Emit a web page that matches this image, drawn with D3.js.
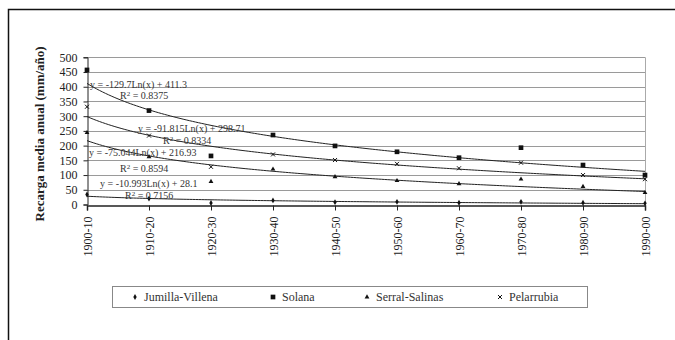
<!DOCTYPE html>
<html>
<head>
<meta charset="utf-8">
<script src="https://cdn.jsdelivr.net/npm/d3@7"></script>
<style>
  html, body { margin: 0; padding: 0; background: #fff; }
  svg text { font-family: "Liberation Serif", "DejaVu Serif", serif; }
</style>
</head>
<body>
<svg id="chart" width="675" height="340"></svg>
<script>
// Mean annual recharge per decade for four aquifer units (mm/año)
const periods = ["1900-10", "1910-20", "1920-30", "1930-40", "1940-50",
                 "1950-60", "1960-70", "1970-80", "1980-90", "1990-00"];
const jumillaVillena = [34, 20, 5, 14, 8, 9, 6, 9, 6, 4];
const solana         = [457, 319, 165, 236, 199, 179, 159, 193, 134, 100];
const serralSalinas  = [244, 162, 78, 120, 94, 81, 70, 86, 61, 40];
const pelarrubia     = [332, 234, 128, 170, 151, 138, 123, 142, 100, 86];
const seriesNames    = ["Jumilla-Villena", "Solana", "Serral-Salinas", "Pelarrubia"];
const yTicks = [0, 50, 100, 150, 200, 250, 300, 350, 400, 450, 500];

// Logarithmic trend lines: y = slope * ln(x) + intercept
const trendSlopes     = [-10.993, -129.7, -75.044, -91.815];
const trendIntercepts = [28.1, 411.3, 216.93, 298.71];
const trendR2         = ["0.7156", "0.8375", "0.8594", "0.8334"];

const serif = "'Liberation Serif', 'Times New Roman', serif";
const svg = d3.select("#chart");

// outer frame
svg.append("rect").attr("x", 8.5).attr("y", 9.5).attr("width", 720).attr("height", 400)
  .attr("fill", "none").attr("stroke", "#111").attr("stroke-width", 1.5);

const plot = { left: 87, right: 645, top: 57.3, bottom: 204.5 };

const x = d3.scalePoint().domain(periods).range([plot.left, plot.right]).padding(0);
const y = d3.scaleLinear().domain([0, 500]).range([plot.bottom, plot.top]);

// horizontal grid
svg.append("g").selectAll("line").data(yTicks.filter(d => d > 0)).join("line")
  .attr("x1", plot.left).attr("x2", plot.right)
  .attr("y1", d => Math.round(y(d)) + 0.5).attr("y2", d => Math.round(y(d)) + 0.5)
  .attr("stroke", "#9a9a9a").attr("stroke-width", 1);

// right edge of plot area
svg.append("line").attr("x1", plot.right + 0.5).attr("x2", plot.right + 0.5)
  .attr("y1", plot.top).attr("y2", plot.bottom).attr("stroke", "#aaa");

// y axis
const yAxis = d3.axisLeft(y).tickValues(yTicks).tickSize(4).tickPadding(6);
const gy = svg.append("g").attr("transform", `translate(${plot.left + 0.5},0)`).call(yAxis)
  .attr("font-family", null);
gy.select(".domain").attr("stroke", "#222");
gy.selectAll(".tick line").attr("stroke", "#222");
gy.selectAll("text").attr("font-size", 12).attr("fill", "#222").style("font-family", serif);

// x axis
const xAxis = d3.axisBottom(x).tickSize(5).tickPadding(4);
const gx = svg.append("g").attr("transform", `translate(0,${Math.round(plot.bottom) + 0.5})`).call(xAxis)
  .attr("font-family", null);
gx.select(".domain").attr("stroke", "#222").attr("stroke-width", 1.5);
gx.selectAll(".tick line").attr("stroke", "#222");
gx.selectAll("text")
  .attr("font-size", 12).attr("fill", "#222").style("font-family", serif)
  .attr("text-anchor", "end").attr("dy", "0.35em")
  .attr("transform", "translate(0,11) rotate(-90)")
  .attr("x", 0).attr("y", 0);

// y axis title
svg.append("text")
  .attr("transform", `translate(44,${(plot.top + plot.bottom) / 2 + 3}) rotate(-90)`)
  .attr("text-anchor", "middle").attr("font-size", 13).attr("font-weight", "bold")
  .style("font-family", serif).attr("fill", "#222").text("Recarga media anual (mm/año)");

// trend lines
const xIdx = d3.range(1, periods.length + 0.001, 0.05);
trendSlopes.forEach((s, i) => {
  const pts = xIdx.map(t => [t, s * Math.log(t) + trendIntercepts[i]]);
  svg.append("path")
    .attr("d", d3.line().x(p => plot.left + (p[0] - 1) * x.step()).y(p => y(p[1]))(pts))
    .attr("fill", "none").attr("stroke", "#222").attr("stroke-width", 1);
});

// series markers
const allSeries = [jumillaVillena, solana, serralSalinas, pelarrubia];
const symbols = [d3.symbolDiamond, d3.symbolSquare, d3.symbolTriangle, d3.symbolCross];
const sizes = [10, 22, 10, 0];
function drawMarker(g, i, cx, cy) {
  if (i === 3) {
    const r = 2;
    g.append("path").attr("d", `M${cx - r},${cy - r}L${cx + r},${cy + r}M${cx - r},${cy + r}L${cx + r},${cy - r}`)
      .attr("stroke", "#111").attr("stroke-width", 1).attr("fill", "none");
  } else {
    g.append("path").attr("d", d3.symbol(symbols[i], sizes[i])())
      .attr("transform", `translate(${cx},${cy})`).attr("fill", "#111");
  }
}
allSeries.forEach((vals, i) => {
  const g = svg.append("g");
  vals.forEach((v, k) => drawMarker(g, i, x(periods[k]), y(v)));
});

// trend equations
const fmtEq = i => `y = ${trendSlopes[i]}Ln(x) + ${trendIntercepts[i]}`;
const eqPos = [[100, 183, 125, 195], [90, 84, 120, 95], [89, 152, 120, 168], [138, 128, 163, 140]];
eqPos.forEach((p, i) => {
  svg.append("text").attr("x", p[0]).attr("y", p[1]).attr("dy", "0.35em")
    .attr("font-size", 10).attr("fill", "#333").style("font-family", serif).text(fmtEq(i));
  const r = svg.append("text").attr("x", p[2]).attr("y", p[3]).attr("dy", "0.35em")
    .attr("font-size", 10).attr("fill", "#333").style("font-family", serif);
  r.append("tspan").text("R");
  r.append("tspan").attr("dy", "-0.3em").attr("font-size", 7).text("2");
  r.append("tspan").attr("dy", "0.3em").text(" = " + trendR2[i]);
});

// legend
svg.append("rect").attr("x", 112.5).attr("y", 286.5).attr("width", 475).attr("height", 21)
  .attr("fill", "#fff").attr("stroke", "#888");
const legendX = [135, 273, 367, 500];
seriesNames.forEach((name, i) => {
  const g = svg.append("g");
  drawMarker(g, i, legendX[i], 297);
  g.append("text").attr("x", legendX[i] + 9).attr("y", 297).attr("dy", "0.35em")
    .attr("font-size", 12).attr("fill", "#333").style("font-family", serif).text(name);
});
</script>
</body>
</html>
